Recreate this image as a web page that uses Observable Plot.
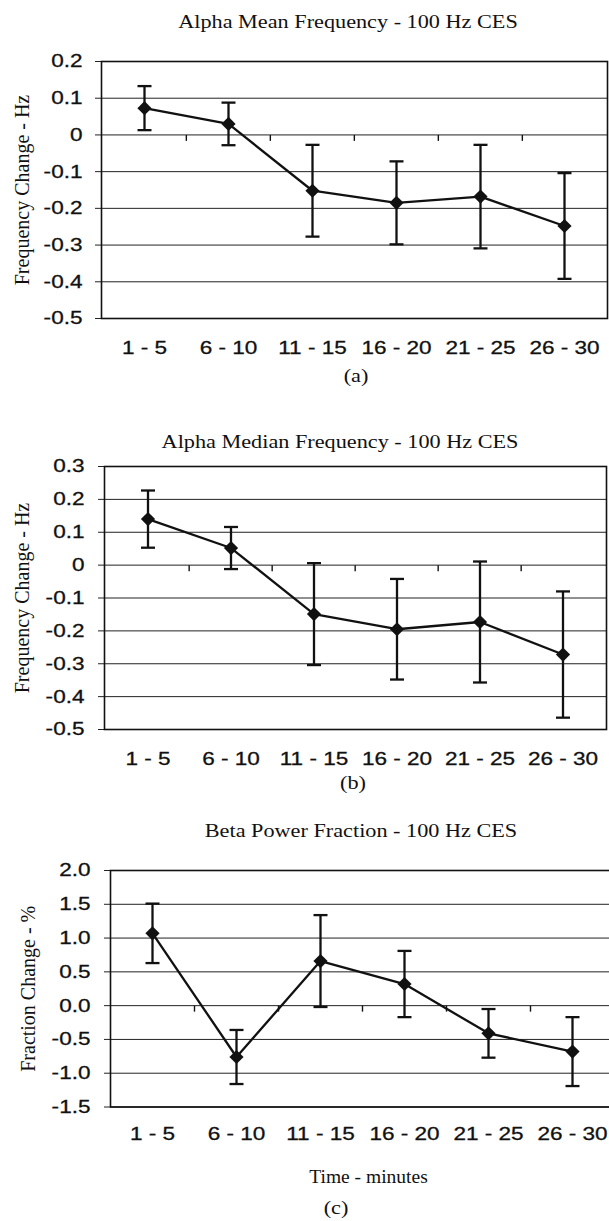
<!DOCTYPE html>
<html>
<head>
<meta charset="utf-8">
<script src="https://cdn.jsdelivr.net/npm/d3@7"></script>
<script src="https://cdn.jsdelivr.net/npm/@observablehq/plot@0.6"></script>
<style>
html, body { margin: 0; padding: 0; background: #fff; overflow: hidden; }
#wrap { position: relative; width: 609px; height: 1221px; overflow: hidden; background: #fff; }
.t { position: absolute; white-space: nowrap; font-family: "Liberation Serif", "Times New Roman", serif;
     font-size: 19px; line-height: 19px; color: #111; transform: translateX(-50%) scaleX(1.17); }
#wrap svg { position: absolute; left: 0; }
</style>
</head>
<body>
<div id="wrap"></div>
<script>
// ---------- data ----------
const categories = ["1 - 5", "6 - 10", "11 - 15", "16 - 20", "21 - 25", "26 - 30"];

const alphaMean = [0.073, 0.030, -0.152, -0.185, -0.168, -0.248];
const alphaMeanErr = [0.060, 0.058, 0.125, 0.113, 0.141, 0.144];

const alphaMedian = [0.140, 0.052, -0.149, -0.195, -0.173, -0.272];
const alphaMedianErr = [0.087, 0.064, 0.155, 0.153, 0.184, 0.192];

const betaFraction = [1.07, -0.76, 0.66, 0.32, -0.41, -0.68];
const betaFractionErr = [0.44, 0.40, 0.68, 0.49, 0.36, 0.51];

const ticksA = [0.2, 0.1, 0, -0.1, -0.2, -0.3, -0.4, -0.5];
const ticksB = [0.3, 0.2, 0.1, 0, -0.1, -0.2, -0.3, -0.4, -0.5];
const ticksC = [2.0, 1.5, 1.0, 0.5, 0.0, -0.5, -1.0, -1.5];

const titleA = "Alpha Mean Frequency - 100 Hz CES";
const titleB = "Alpha Median Frequency - 100 Hz CES";
const titleC = "Beta Power Fraction - 100 Hz CES";
const yLabelA = "Frequency Change - Hz";
const yLabelB = "Frequency Change - Hz";
const yLabelC = "Fraction Change - %";
const xLabelC = "Time - minutes";
const captions = ["(a)", "(b)", "(c)"];

// ---------- helpers ----------
const wrap = document.getElementById("wrap");
const SERIF = "Liberation Serif, Times New Roman, serif";
const SANS = "Liberation Sans, Arial, sans-serif";

const capSymbol = { draw(ctx) { ctx.moveTo(-7, 0); ctx.lineTo(7, 0); } };
const catTickSymbol = { draw(ctx) { ctx.moveTo(0, 0); ctx.lineTo(0, 6); } };

function stretch(svg, selector, k, sw) {
  svg.querySelectorAll(selector).forEach(t => {
    let tr = t.getAttribute("transform");
    if (!tr) {
      const x = t.getAttribute("x") || 0, y = t.getAttribute("y") || 0;
      t.removeAttribute("x"); t.removeAttribute("y");
      tr = `translate(${x},${y})`;
    }
    t.setAttribute("transform", tr + ` scale(${k},1)`);
    if (sw > 0) {
      t.setAttribute("stroke", "#111");
      t.setAttribute("stroke-width", sw);
    }
  });
}

function addText(str, cx, cy) {
  const d = document.createElement("div");
  d.className = "t";
  d.textContent = str;
  d.style.left = cx + "px";
  d.style.top = (cy - 9.5) + "px";
  wrap.appendChild(d);
}

function panel(cfg) {
  const W = 609;
  const data = categories.map((c, i) => ({ c, v: cfg.values[i], e: cfg.errors[i] }));
  const bw = (W - cfg.ml - cfg.mr) / categories.length;
  const mt = 20;
  const svg = Plot.plot({
    width: W,
    height: mt + cfg.frameH + cfg.mb,
    marginTop: mt,
    marginBottom: cfg.mb,
    marginLeft: cfg.ml,
    marginRight: cfg.mr,
    style: { fontFamily: SANS, fontSize: "18.5px", color: "#111", background: "transparent", overflow: "visible" },
    x: { type: "band", domain: categories, padding: 0, label: null, axis: null },
    y: { domain: [cfg.ticks[cfg.ticks.length - 1], cfg.ticks[0]], label: null, axis: null },
    marks: [
      Plot.gridY(cfg.ticks, { stroke: "#222", strokeOpacity: 1, strokeWidth: 1 }),
      Plot.axisY({ ticks: cfg.ticks, tickFormat: cfg.fmt, tickSize: 6, tickPadding: cfg.yPad, label: null, stroke: "#222", strokeWidth: 1 }),
      Plot.axisX({ tickSize: 0, tickPadding: cfg.xPad, label: null }),
      Plot.frame({ stroke: "#111", strokeWidth: 1.6 }),
      Plot.dot(categories.slice(1), { x: d => d, y: d => 0, dx: -bw / 2, r: 3, symbol: catTickSymbol, stroke: "#111", strokeWidth: 1.4, fill: "none" }),
      Plot.ruleX(data, { x: "c", y1: d => d.v - d.e, y2: d => d.v + d.e, stroke: "#111", strokeWidth: 2.3 }),
      Plot.dot(data, { x: "c", y: d => d.v + d.e, r: 3, symbol: capSymbol, stroke: "#111", strokeWidth: 2.3, fill: "none" }),
      Plot.dot(data, { x: "c", y: d => d.v - d.e, r: 3, symbol: capSymbol, stroke: "#111", strokeWidth: 2.3, fill: "none" }),
      Plot.line(data, { x: "c", y: "v", stroke: "#111", strokeWidth: 2.3 }),
      Plot.dot(data, { x: "c", y: "v", symbol: "diamond2", r: 6.4, fill: "#111", stroke: "none" }),
      Plot.text([cfg.yLabel], { text: d => d, frameAnchor: "left", dx: -cfg.labelOffset, rotate: -90, textAnchor: "middle", lineAnchor: "top", fontFamily: SERIF, fontSize: 20, fill: "#111", ariaLabel: "y-label" }),
      ...(cfg.xLabel ? [Plot.text([cfg.xLabel], { text: d => d, frameAnchor: "bottom", dx: 6, dy: cfg.xLabelDy, lineAnchor: "middle", fontFamily: SERIF, fontSize: 19.5, fill: "#111", ariaLabel: "x-label" })] : [])
    ]
  });
  svg.style.top = (cfg.frameTop - mt) + "px";
  wrap.appendChild(svg);
  stretch(svg, 'g[aria-label="x-axis tick label"] text, g[aria-label="y-axis tick label"] text', 1.22, 0.3);
  stretch(svg, 'g[aria-label="y-label"] text, g[aria-label="x-label"] text', 1.13, 0);
}

const fmt1 = d => (d === 0 ? "0" : d.toFixed(1));
const fmt2 = d => d.toFixed(1);

panel({ values: alphaMean, errors: alphaMeanErr, ticks: ticksA, fmt: fmt1, yLabel: yLabelA,
        frameTop: 61, frameH: 257, ml: 101, mr: 2, mb: 40, xPad: 22, yPad: 13, labelOffset: 87 });
panel({ values: alphaMedian, errors: alphaMedianErr, ticks: ticksB, fmt: fmt1, yLabel: yLabelB,
        frameTop: 466, frameH: 263, ml: 104, mr: 3, mb: 40, xPad: 22, yPad: 14, labelOffset: 90 });
panel({ values: betaFraction, errors: betaFractionErr, ticks: ticksC, fmt: fmt2, yLabel: yLabelC, xLabel: xLabelC, xLabelDy: 70,
        frameTop: 869.5, frameH: 236.5, ml: 110, mr: -5, mb: 80, xPad: 20, yPad: 14, labelOffset: 90 });

addText(titleA, 348, 21.3);
addText(captions[0], 356, 375);
addText(titleB, 340, 441);
addText(captions[1], 353, 782);
addText(titleC, 361, 830);
addText(captions[2], 336, 1207);
</script>
</body>
</html>
